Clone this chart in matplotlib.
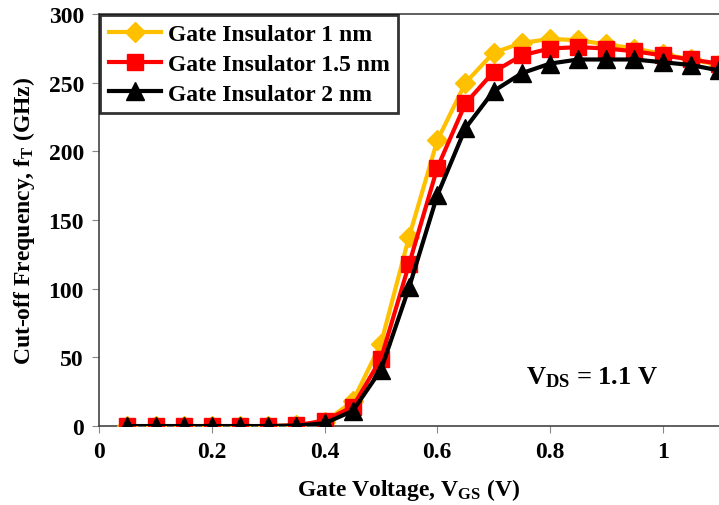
import matplotlib.pyplot as plt

vgs = [0.05, 0.10, 0.15, 0.20, 0.25, 0.30, 0.35, 0.40, 0.45, 0.50, 0.55,
       0.60, 0.65, 0.70, 0.75, 0.80, 0.85, 0.90, 0.95, 1.00, 1.05, 1.10]
ft_1nm = [0, 0, 0, 0, 0, 0, 0.5, 3, 18, 60, 138,
          208, 250, 272, 279, 282, 281, 278, 275, 271, 267, 263]
ft_15nm = [0, 0, 0, 0, 0, 0, 0.5, 4, 14, 49, 118,
           188, 235, 258, 270, 275, 276, 275, 273, 270, 267, 264]
ft_2nm = [0, 0, 0, 0, 0, 0, 0.3, 2, 11, 41, 101,
          168, 217, 244, 257, 264, 267, 267, 267, 265, 263, 259]
labels = ['Gate Insulator 1 nm', 'Gate Insulator 1.5 nm', 'Gate Insulator 2 nm']

plt.rcParams['font.family'] = ['Liberation Serif', 'DejaVu Serif']
plt.rcParams['font.weight'] = 'bold'
plt.rcParams['mathtext.fontset'] = 'custom'
plt.rcParams['mathtext.rm'] = 'Liberation Serif:bold'
plt.rcParams['mathtext.bf'] = 'Liberation Serif:bold'
plt.rcParams['mathtext.default'] = 'bf'

fig = plt.figure(figsize=(7.19, 5.06), dpi=100)
ax = fig.add_axes([0.138, 0.156, 0.862, 0.814])

ax.plot(vgs, ft_1nm, color='#FFC000', lw=3, marker='D', ms=10, label=labels[0], zorder=3)
ax.plot(vgs, ft_15nm, color='#FF0000', lw=3, marker='s', ms=12, label=labels[1], zorder=4)
ax.plot(vgs, ft_2nm, color='black', lw=3, marker='^', ms=13, label=labels[2], zorder=5)

ax.set_xlim(0, 1.1)
ax.set_ylim(0, 300)
ax.set_xticks([0, 0.2, 0.4, 0.6, 0.8, 1.0])
ax.set_xticklabels(['0', '0.2', '0.4', '0.6', '0.8', '1'])
ax.set_yticks(range(0, 301, 50))
ax.tick_params(labelsize=17, direction='out', length=5, color='#888888', pad=6)
for lab in ax.get_xticklabels() + ax.get_yticklabels():
    lab.set_fontweight('bold')
for s in ax.spines.values():
    s.set_color('#444444')
    s.set_linewidth(1.2)
ax.spines['right'].set_visible(False)

ax.set_xlabel(r'Gate Voltage, V$_{GS}$ (V)', fontsize=17, fontweight='bold', labelpad=10)
ax.set_ylabel(r'Cut-off Frequency, f$_{T}$ (GHz)', fontsize=17, fontweight='bold', labelpad=8)

ax.text(0.875, 36, r'V$_{DS}$ = 1.1 V', fontsize=19, fontweight='bold', ha='center', va='center')

leg = ax.legend(loc='upper left', fontsize=17, frameon=True, fancybox=False,
                edgecolor='black', borderaxespad=0.05, handlelength=2.2,
                labelspacing=0.35, handletextpad=0.3, borderpad=0.35)
leg.get_frame().set_linewidth(2)
for t in leg.get_texts():
    t.set_fontweight('bold')

fig.savefig('out.png', dpi=100)
